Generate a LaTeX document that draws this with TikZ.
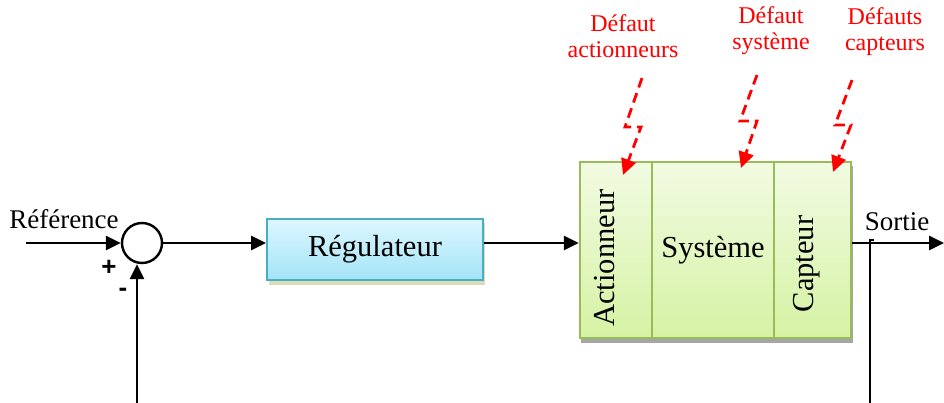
\documentclass[tikz,border=0pt]{standalone}
\usepackage{fontspec}
\setmainfont{Liberation Serif}
\setsansfont{Liberation Sans}
\usetikzlibrary{arrows.meta,calc}
\definecolor{regtop}{HTML}{DDF7FF}
\definecolor{regbot}{HTML}{A3E4F7}
\definecolor{regline}{HTML}{4BACC6}
\definecolor{regshadow}{HTML}{DCDDB8}
\definecolor{plttop}{HTML}{F2FBE2}
\definecolor{pltbot}{HTML}{D5F3A4}
\definecolor{pltline}{HTML}{9BBB59}
\definecolor{pltshadow}{HTML}{A6A6A6}
\tikzset{
  wire/.style={line width=2.8pt,-{Triangle[length=15pt,width=14pt]}},
  plain/.style={line width=2.4pt},
  blockfont/.style={font=\rmfamily\fontsize{30.5}{33}\selectfont},
  regbox/.style={draw=regline,line width=2pt,top color=regtop,bottom color=regbot,
    minimum width=216pt,minimum height=61pt,inner sep=0pt,blockfont},
  pltbox/.style={draw=pltline,line width=2.4pt,top color=plttop,bottom color=pltbot,
    minimum height=176pt,inner sep=0pt,blockfont},
  sumnode/.style={circle,draw,line width=2.4pt,fill=white,minimum size=40pt,inner sep=0pt},
  lbl/.style={font=\rmfamily\fontsize{27}{30}\selectfont,inner sep=0pt},
  sign/.style={font=\sffamily\bfseries\fontsize{26}{28}\selectfont,inner sep=0pt},
  fault/.style={text=red,align=center,inner sep=0pt,font=\rmfamily\fontsize{24}{26}\selectfont},
  bolt/.style={draw=red,line width=2.8pt,dash pattern=on 10pt off 6pt,
    -{Triangle[length=16pt,width=15pt]}}
}
\begin{document}
\begin{tikzpicture}[x=1pt,y=-1pt]
\useasboundingbox (0,0) rectangle (944,403);

% summing junction and controller
\node[sumnode] (sum) at (142,243) {};
\fill[regshadow] (269,223) rectangle (485,285);
\node[regbox] (reg) at (375,249.5) {Régulateur};

% plant: actuator, process, sensor
\fill[pltshadow] (581,166) rectangle (853,343);
\node[pltbox,minimum width=72pt] (act) at (616,250) {};
\node[pltbox,minimum width=122pt] (sys) at (713,250) {Système};
\node[pltbox,minimum width=77pt] (cap) at (812.5,250) {};
\node[rotate=90,blockfont,inner sep=0pt] (acttxt) at (605,258) {Actionneur};
\node[rotate=90,blockfont,inner sep=0pt] (captxt) at (807,264) {Capteur};

% signal flow
\coordinate (refin) at (26,243);
\coordinate (out) at (944,243);
\coordinate (tap) at (870,243);
\coordinate (fbl) at (137,403);
\coordinate (fbr) at (870,403);
\draw[wire] (refin) -- (sum.west);
\draw[wire] (sum.east) -- (sum.east -| reg.west);
\draw[wire] (reg.east |- sum.east) -- (act.west |- sum.east);
\draw[wire] (cap.east |- sum.east) -- (out);
\draw[plain] (fbr) -- ($(tap)+(0,-3)$) -- ++(4,0);
\draw[wire] (fbl) -- (fbl |- sum.south);

% labels
\node[lbl] (reflbl) at (64,219) {Référence};
\node[lbl] (outlbl) at (897,222) {Sortie};
\node[sign] (plus) at (109,268) {+};
\node[sign] (minus) at (123,292) {-};

% fault inputs
\node[fault] (fa) at (623,36) {Défaut\\actionneurs};
\node[fault] (fs) at (771,31) {Défaut\\système};
\node[fault] (fc) at (885,32) {Défauts\\capteurs};
\draw[bolt] (642,78) -- (625,127) -- (641,127) -- (623,175);
\draw[bolt] (757,75) -- (740,121) -- (757,121) -- (741,168);
\draw[bolt] (852,80) -- (835,125) -- (851,125) -- (833,172);
\end{tikzpicture}
\end{document}
